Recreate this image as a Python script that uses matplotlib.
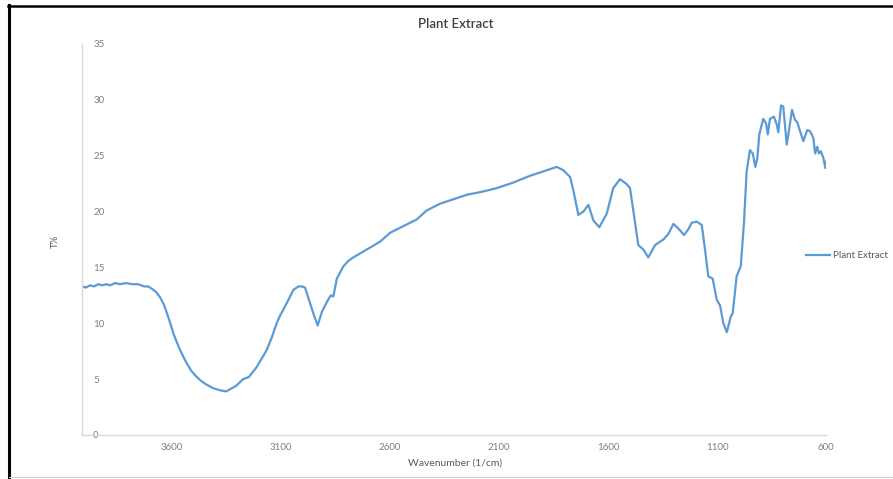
import numpy as np
import matplotlib.pyplot as plt
from matplotlib.lines import Line2D

plt.rcParams['font.family'] = ['Lato', 'DejaVu Sans']

title = 'Plant Extract'
series_name = 'Plant Extract'

# FTIR transmittance spectrum of the plant extract
wavenumber = [4013, 3995, 3976, 3958, 3939, 3921, 3903, 3884, 3861, 3838,
              3811, 3783, 3756, 3728, 3710, 3693, 3673, 3654, 3638, 3623,
              3608, 3594, 3578, 3563, 3548, 3532, 3510, 3487, 3464, 3441,
              3412, 3380, 3352, 3334, 3306, 3274, 3247, 3211, 3190, 3166,
              3143, 3120, 3104, 3074, 3043, 3020, 3005, 2990, 2967, 2952,
              2932, 2913, 2890, 2872, 2860, 2844, 2814, 2790, 2768, 2707,
              2646, 2600, 2539, 2477, 2432, 2371, 2310, 2248, 2172, 2110,
              2034, 1958, 1881, 1835, 1805, 1774, 1759, 1736, 1713, 1690,
              1667, 1640, 1606, 1576, 1545, 1517, 1499, 1484, 1461, 1438,
              1415, 1384, 1346, 1323, 1300, 1278, 1251, 1232, 1216, 1193,
              1170, 1155, 1140, 1120, 1101, 1086, 1071, 1055, 1037, 1028,
              1010, 991, 976, 964, 949, 936, 924, 915, 906, 888,
              875, 867, 857, 839, 826, 819, 806, 796, 780, 768,
              756, 742, 732, 719, 704, 686, 673, 658, 650, 640,
              633, 624, 612, 603, 597]
transmittance = [13.3, 13.2, 13.4, 13.3, 13.5, 13.4, 13.5, 13.4, 13.6, 13.5,
                 13.6, 13.5, 13.5, 13.3, 13.3, 13.1, 12.8, 12.3, 11.7, 10.9,
                 10.0, 9.1, 8.3, 7.6, 7.0, 6.4, 5.7, 5.2, 4.8, 4.5,
                 4.2, 4.0, 3.9, 4.1, 4.4, 5.0, 5.2, 6.1, 6.8, 7.6,
                 8.7, 10.0, 10.7, 11.8, 13.0, 13.3, 13.3, 13.2, 11.8, 10.9,
                 9.8, 11.0, 11.9, 12.5, 12.4, 14.0, 15.1, 15.6, 15.9, 16.6,
                 17.3, 18.1, 18.7, 19.3, 20.1, 20.7, 21.1, 21.5, 21.8, 22.1,
                 22.6, 23.2, 23.7, 24.0, 23.7, 23.1, 21.9, 19.7, 20.0, 20.6,
                 19.2, 18.6, 19.8, 22.1, 22.9, 22.5, 22.1, 20.1, 17.0, 16.6,
                 15.9, 17.0, 17.5, 18.0, 18.9, 18.5, 17.9, 18.4, 19.0, 19.1,
                 18.8, 16.6, 14.2, 14.0, 12.1, 11.6, 10.0, 9.2, 10.6, 10.9,
                 14.2, 15.1, 19.1, 23.6, 25.5, 25.2, 24.0, 24.8, 26.9, 28.3,
                 27.9, 26.9, 28.3, 28.5, 27.8, 27.1, 29.5, 29.4, 26.0, 27.5,
                 29.1, 28.2, 28.0, 27.2, 26.3, 27.3, 27.2, 26.6, 25.2, 25.8,
                 25.2, 25.4, 24.8, 23.9, 24.5]

x_ticks = [3600, 3100, 2600, 2100, 1600, 1100, 600]
y_ticks = [0, 5, 10, 15, 20, 25, 30, 35]

W, H = 893, 479
fig = plt.figure(figsize=(W / 100, H / 100), dpi=100)
ax = fig.add_axes([82 / W, 1 - 435 / H, (826 - 82) / W, (435 - 44) / H])

line, = ax.plot(wavenumber, transmittance, color='#5b9bd5', lw=1.6,
                solid_joinstyle='round', label=series_name)

ax.set_xlim(4013, 600)
ax.set_ylim(0, 35)
ax.set_xticks(x_ticks)
ax.set_yticks(y_ticks)

for side in ['top', 'right']:
    ax.spines[side].set_visible(False)
for side in ['left', 'bottom']:
    ax.spines[side].set_color('#d9d9d9')
    ax.spines[side].set_linewidth(1.0)

ax.tick_params(axis='x', length=0, pad=6, labelsize=7, labelcolor='#7f7f7f')
ax.tick_params(axis='y', length=0, pad=-8, labelsize=7, labelcolor='#7f7f7f')
for lbl in ax.get_yticklabels():
    lbl.set_horizontalalignment('left')

fig.text(456 / W, 1 - 24 / H, title, ha='center', va='center',
         fontsize=9.5, color='#404040', fontweight='semibold')
fig.text(455 / W, 1 - 463 / H, 'Wavenumber (1/cm)', ha='center', va='center',
         fontsize=7.5, color='#595959')
fig.text(55 / W, 1 - 241 / H, 'T%', ha='center', va='center',
         rotation=90, fontsize=7, color='#595959')

fig.legend(handles=[line], loc='center left',
           bbox_to_anchor=(806 / W, 1 - 256 / H), frameon=False,
           fontsize=7, labelcolor='#595959', handlelength=2.5,
           handletextpad=0.25, borderpad=0, borderaxespad=0)

# outer frame
fig.add_artist(Line2D([9 / W, 9 / W], [0, 1 - 5 / H], color='black', lw=2.2,
                      transform=fig.transFigure))
fig.add_artist(Line2D([8 / W, 1], [1 - 6 / H, 1 - 6 / H], color='black', lw=1.8,
                      transform=fig.transFigure))
fig.add_artist(Line2D([9 / W, 1], [1 - 477 / H, 1 - 477 / H], color='#d0d0d0',
                      lw=0.8, transform=fig.transFigure))

fig.savefig('out.png', dpi=100)
